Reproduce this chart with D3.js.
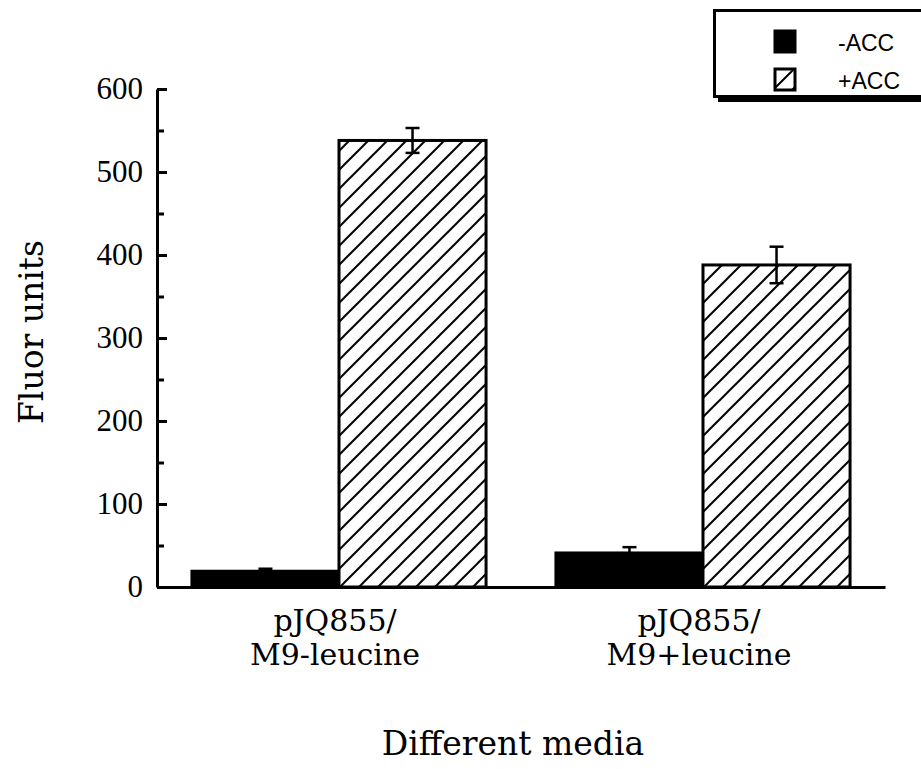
<!DOCTYPE html>
<html>
<head>
<meta charset="utf-8">
<script src="https://cdn.jsdelivr.net/npm/d3@7"></script>
<style>
    html, body { margin: 0; padding: 0; background: #fff; }
    #chart { width: 921px; height: 769px; }
</style>
</head>
<body>
<div id="chart"></div>
<script>
// data
const groups = ['pJQ855/\nM9-leucine', 'pJQ855/\nM9+leucine'];
const series = ['-ACC', '+ACC'];
const minusAcc = [19, 41];
const plusAcc = [538, 388];
const minusAccErr = [3, 7];
const plusAccErr = [15, 22];
const yTicks = [0, 100, 200, 300, 400, 500, 600];
const yMinorTicks = [50, 150, 250, 350, 450, 550];

function barChart (el) {
    const _width = 921;
    const _height = 769;
    const _margins = { top: 89, left: 157, right: 36, bottom: 182 };
    const _svg = d3.select(el).append('svg')
        .attr('width', _width)
        .attr('height', _height);

    const innerW = _width - _margins.left - _margins.right;
    const innerH = _height - _margins.top - _margins.bottom;

    const _x0 = d3.scaleBand()
        .domain(groups)
        .range([0, innerW])
        .paddingInner(0.192)
        .paddingOuter(0.096);
    const _x1 = d3.scaleBand()
        .domain(series)
        .range([0, _x0.bandwidth()]);
    const _y = d3.scaleLinear()
        .domain([0, 600])
        .range([innerH, 0]);

    // hatch pattern for +ACC
    const defs = _svg.append('defs');
    const pat = defs.append('pattern')
        .attr('id', 'hatch')
        .attr('patternUnits', 'userSpaceOnUse')
        .attr('width', 19)
        .attr('height', 19);
    pat.append('rect').attr('width', 19).attr('height', 19).attr('fill', '#fff');
    pat.append('path')
        .attr('d', 'M-2,2 L2,-2 M0,19 L19,0 M17,21 L21,17')
        .attr('stroke', '#000')
        .attr('stroke-width', 2);

    const body = _svg.append('g')
        .attr('transform', 'translate(' + _margins.left + ',' + _margins.top + ')');

    const rows = groups.map((g, i) => ({
        group: g,
        values: [
            { key: '-ACC', v: minusAcc[i], e: minusAccErr[i] },
            { key: '+ACC', v: plusAcc[i], e: plusAccErr[i] }
        ]
    }));

    const gGroup = body.selectAll('g.group')
        .data(rows)
        .enter()
        .append('g')
        .attr('class', 'group')
        .attr('transform', d => 'translate(' + _x0(d.group) + ',0)');

    gGroup.selectAll('rect')
        .data(d => d.values)
        .enter()
        .append('rect')
        .attr('x', d => _x1(d.key))
        .attr('y', d => _y(d.v))
        .attr('width', _x1.bandwidth())
        .attr('height', d => _y(0) - _y(d.v))
        .attr('fill', d => d.key === '-ACC' ? '#000' : 'url(#hatch)')
        .attr('stroke', '#000')
        .attr('stroke-width', 3);

    // error bars
    const eb = gGroup.selectAll('g.err')
        .data(d => d.values)
        .enter()
        .append('g')
        .attr('class', 'err')
        .attr('stroke', '#000')
        .attr('stroke-width', 2.5);
    eb.append('line')
        .attr('x1', d => _x1(d.key) + _x1.bandwidth() / 2)
        .attr('x2', d => _x1(d.key) + _x1.bandwidth() / 2)
        .attr('y1', d => _y(d.v + d.e))
        .attr('y2', d => _y(d.v - d.e));
    eb.append('line')
        .attr('x1', d => _x1(d.key) + _x1.bandwidth() / 2 - 7)
        .attr('x2', d => _x1(d.key) + _x1.bandwidth() / 2 + 7)
        .attr('y1', d => _y(d.v + d.e))
        .attr('y2', d => _y(d.v + d.e));
    eb.append('line')
        .attr('x1', d => _x1(d.key) + _x1.bandwidth() / 2 - 7)
        .attr('x2', d => _x1(d.key) + _x1.bandwidth() / 2 + 7)
        .attr('y1', d => _y(d.v - d.e))
        .attr('y2', d => _y(d.v - d.e));

    // y axis, ticks pointing inwards
    const yAxis = body.append('g')
        .attr('class', 'y axis')
        .call(d3.axisLeft(_y)
            .tickValues(yTicks)
            .tickSizeInner(-10)
            .tickSizeOuter(0)
            .tickPadding(14));
    yAxis.select('.domain').attr('stroke-width', 3);
    yAxis.selectAll('.tick line').attr('stroke-width', 3);
    yAxis.selectAll('.tick text')
        .attr('font-family', '"Liberation Serif", serif')
        .attr('font-size', 31)
        .attr('fill', '#000');

    const yMinor = body.append('g')
        .call(d3.axisLeft(_y)
            .tickValues(yMinorTicks)
            .tickSizeInner(-7)
            .tickSizeOuter(0)
            .tickFormat(''));
    yMinor.select('.domain').remove();
    yMinor.selectAll('.tick line').attr('stroke-width', 3);

    // x axis baseline
    const xAxis = body.append('g')
        .attr('class', 'x axis')
        .attr('transform', 'translate(0,' + innerH + ')')
        .call(d3.axisBottom(_x0).tickSize(0).tickSizeOuter(0).tickFormat(''));
    xAxis.select('.domain').attr('stroke-width', 3);

    const lbl = body.selectAll('text.cat')
        .data(groups)
        .enter()
        .append('text')
        .attr('class', 'cat')
        .attr('font-family', '"DejaVu Serif", serif')
        .attr('font-size', 30)
        .attr('text-anchor', 'middle')
        .attr('fill', '#000');
    lbl.selectAll('tspan')
        .data(d => d.split('\n').map(t => ({ t, g: d })))
        .enter()
        .append('tspan')
        .attr('x', d => _x0(d.g) + _x0.bandwidth() / 2 - 4)
        .attr('y', (d, i) => innerH + 44 + i * 34)
        .text(d => d.t);

    // axis titles
    _svg.append('text')
        .attr('transform', 'translate(43,332) rotate(-90)')
        .attr('text-anchor', 'middle')
        .attr('font-family', '"DejaVu Serif", serif')
        .attr('font-size', 33)
        .text('Fluor units');

    _svg.append('text')
        .attr('x', _margins.left + innerW / 2 - 8)
        .attr('y', 755)
        .attr('text-anchor', 'middle')
        .attr('font-family', '"DejaVu Serif", serif')
        .attr('font-size', 33)
        .text('Different media');

    // legend box with drop shadow
    const leg = _svg.append('g').attr('class', 'legend');
    leg.append('rect')
        .attr('x', 718).attr('y', 15)
        .attr('width', 220).attr('height', 87)
        .attr('fill', '#000');
    leg.append('rect')
        .attr('x', 714.5).attr('y', 10.5)
        .attr('width', 220).attr('height', 86)
        .attr('fill', '#fff')
        .attr('stroke', '#000')
        .attr('stroke-width', 3);

    const item = leg.selectAll('g.item')
        .data(series)
        .enter()
        .append('g')
        .attr('class', 'item')
        .attr('transform', (d, i) => 'translate(775,' + (31 + i * 38) + ')');
    item.append('rect')
        .attr('width', 20)
        .attr('height', 21)
        .attr('fill', d => d === '-ACC' ? '#000' : 'url(#hatch)')
        .attr('stroke', '#000')
        .attr('stroke-width', 3);
    item.append('text')
        .attr('x', 63)
        .attr('y', 20)
        .attr('font-family', '"Liberation Sans", sans-serif')
        .attr('font-size', 23)
        .text(d => d);
}

barChart(document.getElementById('chart'));
</script>
</body>
</html>
